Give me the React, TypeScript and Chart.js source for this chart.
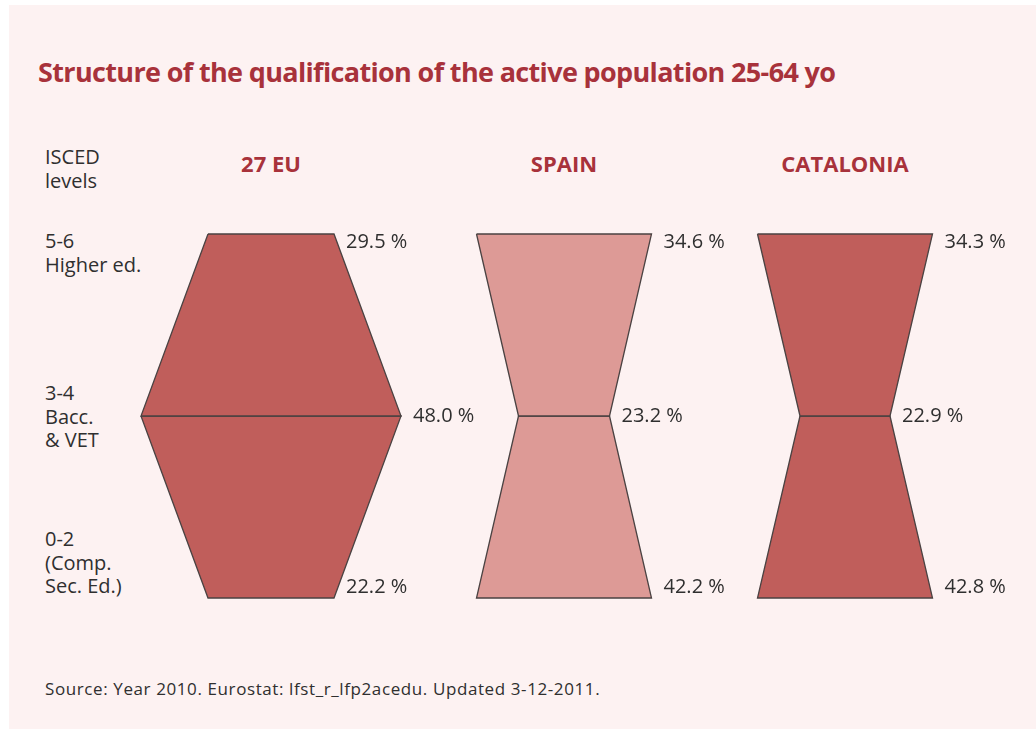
import React, { useEffect, useRef } from "react";
import { Chart, registerables } from "chart.js";

Chart.register(...registerables);

// Levels from bottom (index 0) to top (index 2)
const levels = ["0-2", "3-4", "5-6"];
const levelLabels = [
  ["0-2", "(Comp.", "Sec. Ed.)"],
  ["3-4", "Bacc.", "& VET"],
  ["5-6", "Higher ed."],
];
const countries = ["27 EU", "SPAIN", "CATALONIA"];

// Percentages shown next to each level (bottom, middle, top)
const euValues = [22.2, 48.0, 29.5];
const spainValues = [42.2, 23.2, 34.6];
const cataloniaValues = [42.8, 22.9, 34.3];

// Drawn widths of each shape at each level
const euShapeWidths = [25.2, 52, 25.2];
const spainShapeWidths = [35, 18.2, 35];
const cataloniaShapeWidths = [35, 18, 35];

const title = "Structure of the qualification of the active population 25-64 yo";
const source = "Source: Year 2010. Eurostat: lfst_r_lfp2acedu. Updated 3-12-2011.";

const RED = "#a8323b";
const TEXT = "#2f2f2f";
const FONT = "'Open Sans', 'Noto Sans', sans-serif";

type CountryProps = {
  values: number[];
  widths: number[];
  color: string;
  left: number;
};

function CountryChart({ values, widths, color, left }: CountryProps) {
  const ref = useRef<HTMLCanvasElement | null>(null);
  useEffect(() => {
    if (!ref.current) return;
    const half = widths.map((w) => w / 2);
    const upper = [
      { x: -half[2], y: 2 },
      { x: half[2], y: 2 },
      { x: half[1], y: 1 },
      { x: -half[1], y: 1 },
      { x: -half[2], y: 2 },
    ];
    const lower = [
      { x: -half[1], y: 1 },
      { x: half[1], y: 1 },
      { x: half[0], y: 0 },
      { x: -half[0], y: 0 },
      { x: -half[1], y: 1 },
    ];
    const labelPlugin = {
      id: "valueLabels",
      afterDatasetsDraw(chart: any) {
        const { ctx, scales } = chart;
        ctx.save();
        ctx.fillStyle = TEXT;
        ctx.font = "20px " + FONT;
        ctx.textAlign = "left";
        ctx.textBaseline = "middle";
        const dy = [-11, 0, 8];
        values.forEach((v, i) => {
          const x = scales.x.getPixelForValue(half[i]) + 12;
          const y = scales.y.getPixelForValue(i) + dy[i];
          ctx.fillText(v.toFixed(1) + " %", x, y);
        });
        ctx.restore();
      },
    };
    const common = {
      showLine: true,
      fill: "shape",
      backgroundColor: color,
      borderColor: "#4a4242",
      borderWidth: 1.3,
      pointRadius: 0,
      pointHoverRadius: 0,
      tension: 0,
      clip: false,
    };
    const chart = new Chart(ref.current, {
      type: "scatter",
      data: {
        datasets: [
          { label: levels[2], data: upper, ...common } as any,
          { label: levels[0], data: lower, ...common } as any,
        ],
      },
      options: {
        responsive: false,
        animation: false,
        events: [],
        layout: { padding: { top: 34, bottom: 32, left: 0, right: 0 } },
        scales: {
          x: { type: "linear", min: -44, max: 44, display: false },
          y: { type: "linear", min: 0, max: 2, display: false },
        },
        plugins: {
          legend: { display: false },
          tooltip: { enabled: false },
        },
      },
      plugins: [labelPlugin],
    });
    return () => chart.destroy();
  }, [values, widths, color]);
  return (
    <canvas
      ref={ref}
      width={440}
      height={430}
      style={{ position: "absolute", left, top: 200, width: 440, height: 430 }}
    />
  );
}

export default function App() {
  const centers = [271, 564, 845];
  const valueSets = [euValues, spainValues, cataloniaValues];
  const widthSets = [euShapeWidths, spainShapeWidths, cataloniaShapeWidths];
  const colors = ["#c05e5b", "#dd9a96", "#c05e5b"];
  const labelTops = [527, 381, 229];
  return (
    <div
      style={{
        position: "absolute",
        left: 0,
        top: 0,
        width: 1036,
        height: 729,
        background: "#ffffff",
        overflow: "hidden",
        fontFamily: FONT,
      }}
    >
      <div
        style={{
          position: "absolute",
          left: 9,
          top: 5,
          width: 1027,
          height: 724,
          background: "#fdf2f2",
        }}
      />
      <div
        style={{
          position: "absolute",
          left: 38,
          top: 58,
          fontSize: 27,
          lineHeight: "27px",
          letterSpacing: "-0.65px",
          fontWeight: 700,
          color: RED,
          whiteSpace: "nowrap",
        }}
      >
        {title}
      </div>
      <div
        style={{
          position: "absolute",
          left: 45,
          top: 145,
          fontSize: 20,
          lineHeight: "24px",
          color: TEXT,
        }}
      >
        ISCED
        <br />
        levels
      </div>
      {levelLabels.map((lines, i) => (
        <div
          key={levels[i]}
          style={{
            position: "absolute",
            left: 45,
            top: labelTops[i],
            fontSize: 20,
            lineHeight: "23.5px",
            color: TEXT,
            whiteSpace: "nowrap",
          }}
        >
          {lines.map((l, j) => (
            <div key={j}>{l}</div>
          ))}
        </div>
      ))}
      {countries.map((c, i) => (
        <div
          key={c}
          style={{
            position: "absolute",
            left: centers[i] - 100,
            width: 200,
            top: 152,
            textAlign: "center",
            fontSize: 22,
            lineHeight: "22px",
            fontWeight: 700,
            color: RED,
          }}
        >
          {c}
        </div>
      ))}
      {countries.map((c, i) => (
        <CountryChart
          key={"chart" + c}
          values={valueSets[i]}
          widths={widthSets[i]}
          color={colors[i]}
          left={centers[i] - 220}
        />
      ))}
      <div
        style={{
          position: "absolute",
          left: 45,
          top: 680,
          fontSize: 17,
          lineHeight: "17px",
          letterSpacing: "0.6px",
          color: TEXT,
          whiteSpace: "nowrap",
        }}
      >
        {source}
      </div>
    </div>
  );
}
